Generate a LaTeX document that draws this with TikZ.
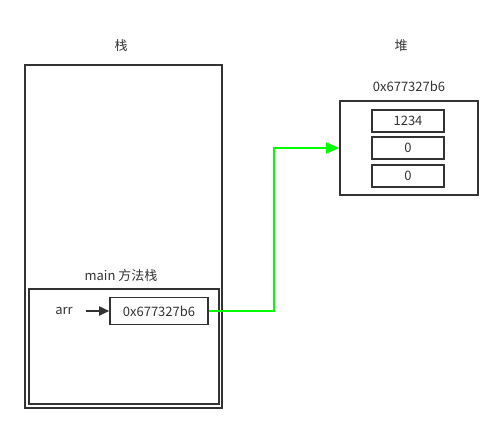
\documentclass[tikz,border=0pt]{standalone}
\usepackage{fontspec}
\setmainfont{Noto Sans CJK SC}
\usetikzlibrary{arrows.meta}
\definecolor{frame}{HTML}{333333}
\definecolor{txt}{HTML}{333333}
\definecolor{ptr}{HTML}{00FF00}
\tikzset{
  box/.style={draw=frame, line width=1.6pt, minimum height=22pt, inner sep=0pt},
  lbl/.style={text=txt, font=\fontsize{13}{15}\selectfont}
}

\begin{document}
\begin{tikzpicture}[x=1pt, y=-1pt]
\useasboundingbox (0,0) rectangle (503,434);
% stack
\node[lbl] (stacktitle) at (121,46) {栈};
\draw[frame, line width=1.6pt] (25,65) rectangle (222,408);
\node[lbl] (maintitle) at (121,276) {main 方法栈};
\draw[frame, line width=1.6pt] (29,289) rectangle (219,404);
\node[lbl] (arr) at (64,311) {arr};
\node[box, lbl, minimum width=98pt, minimum height=27pt] (ref) at (159,311) {0x677327b6};
\coordinate (arrtail) at (86,311);
\draw[draw=frame, line width=1.8pt, -{Triangle[length=10pt,width=9pt]}] (arrtail) -- (ref.west);
% heap
\node[lbl] (heaptitle) at (401,46) {堆};
\node[lbl] (addr) at (409,86) {0x677327b6};
\node[draw=frame, line width=1.6pt, minimum width=138pt, minimum height=94pt] (heap) at (409,148) {};
\node[box, lbl, minimum width=72pt] (c1) at (408,121) {1234};
\node[box, lbl, minimum width=72pt] (c2) at (408,148) {0};
\node[box, lbl, minimum width=72pt] (c3) at (408,176) {0};
% pointer
\coordinate (bend) at (274,148);
\draw[draw=ptr, line width=1.8pt, -{Triangle[length=13pt,width=11pt]}] (ref.east) -| (bend) -- (heap.west);
\end{tikzpicture}
\end{document}
